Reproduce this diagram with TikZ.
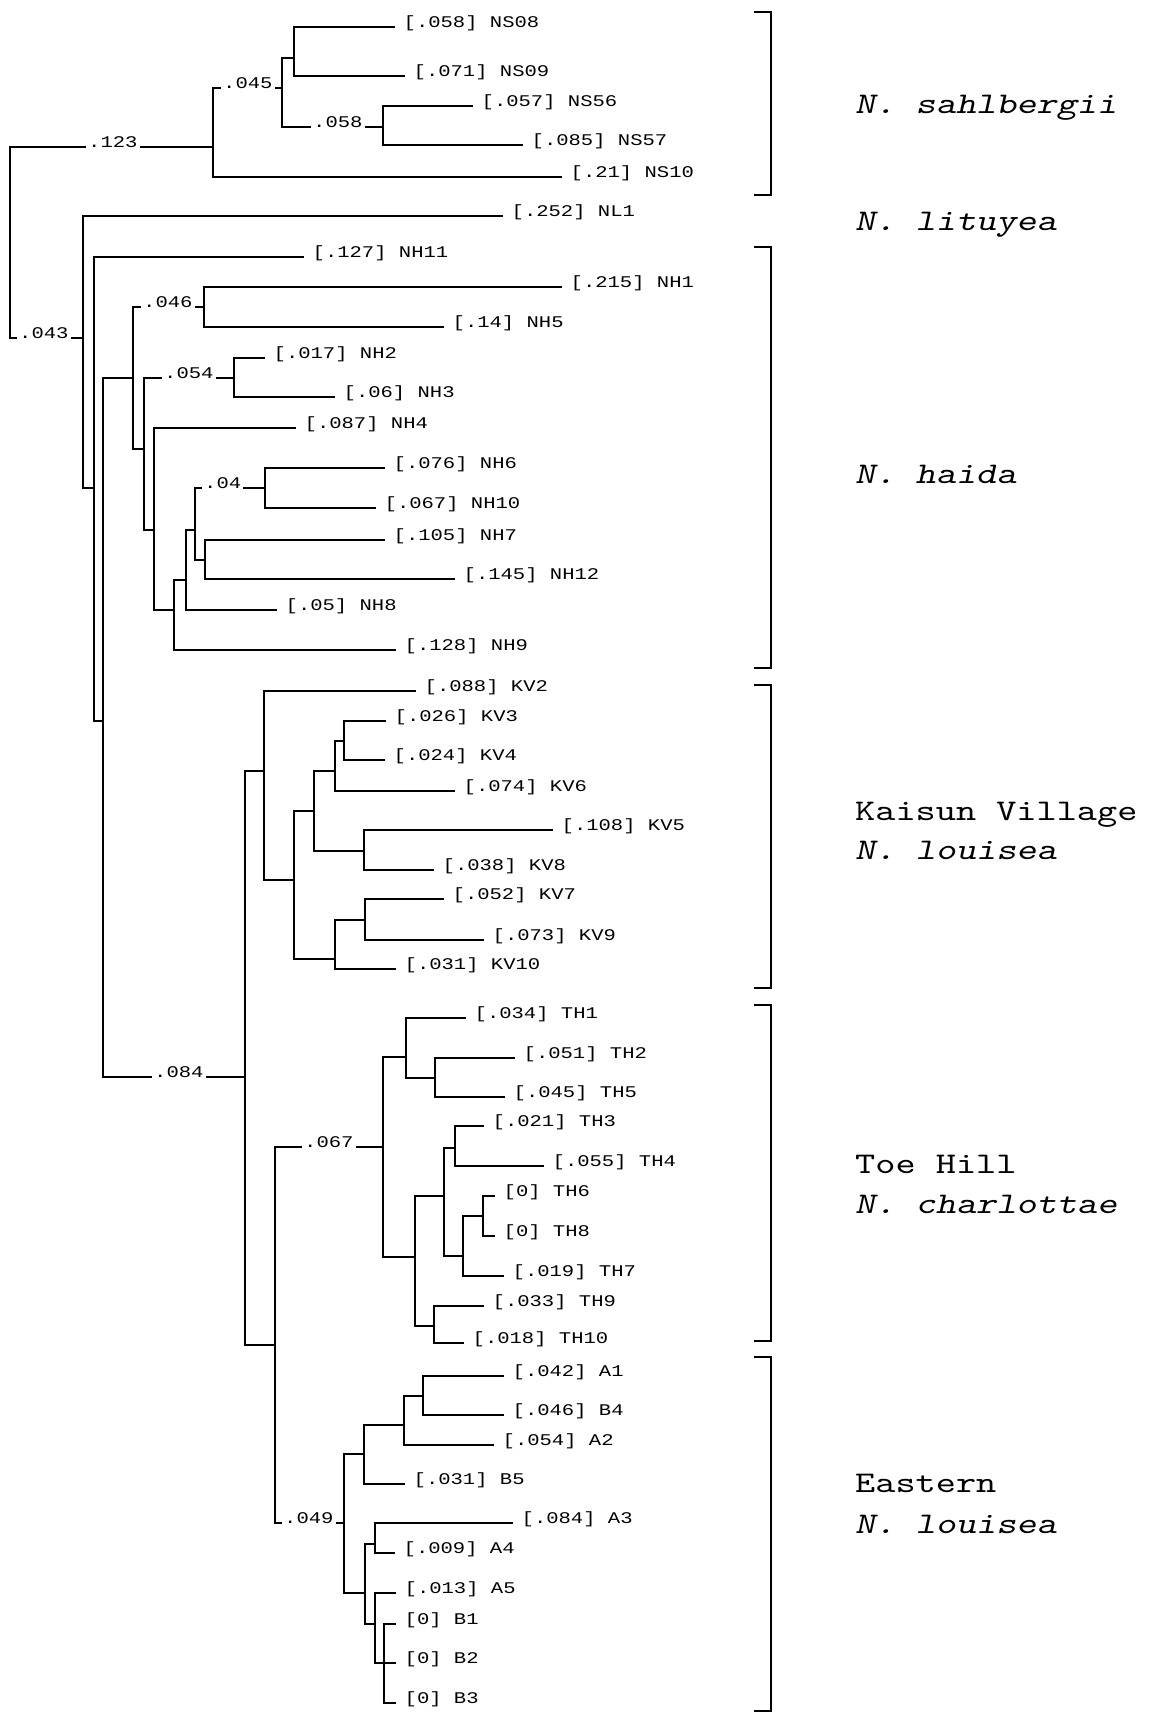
\documentclass[tikz,border=0pt]{standalone}
\usepackage{fontspec}
\usepackage{graphicx}
\newfontfamily\leaffont{Liberation Mono}[FakeStretch=1.26]
\newfontfamily\grpfont{lmmono10-regular.otf}[ItalicFont=lmmonoslant10-regular.otf, FakeStretch=1.28]
\tikzset{
  br/.style={line width=2pt},
  brk/.style={line width=2pt},
  leaf/.style={anchor=base west, inner sep=0pt, font={\leaffont\fontsize{16.3}{18}\selectfont}},
  blab/.style={anchor=base west, inner sep=0pt, font={\leaffont\fontsize{16.3}{18}\selectfont}},
  grp/.style={anchor=base west, inner sep=0pt, font={\grpfont\fontsize{30}{36}\selectfont}}
}
% #1 parent, #2 name, #3 line end x, #4 y, #5 text
\newcommand\leafat[5]{%
  \node[leaf] (#2) at (#3+8.5,#4) {#5};
  \draw[br] (#1) |- ([xshift=-8.5pt]#2.base west);}
% #1 parent, #2 child, #3 child x, #4 y
\newcommand\inbr[4]{%
  \coordinate (#2) at (#3,#4);
  \draw[br] (#1) |- (#2);}
% #1 parent, #2 child, #3 child x, #4 y, #5 label x, #6 label
\newcommand\labbr[6]{%
  \coordinate (#2) at (#3,#4);
  \node[blab] (#2l) at (#5,#4) {#6};
  \draw[br] (#1) |- ([xshift=-2pt]#2l.base west);
  \draw[br] ([xshift=2pt]#2l.base east) -- (#2);}
\begin{document}
\begin{tikzpicture}[x=1pt,y=-1pt]
\useasboundingbox (0,0) rectangle (1149,1717);
\coordinate (root) at (10,240);
% N. sahlbergii
\labbr{root}{NSc}{213}{147}{88}{.123}
\labbr{NSc}{NSa}{282}{88}{223}{.045}
\inbr{NSa}{NSb}{294}{58}
\leafat{NSb}{NS08}{395}{27}{[.058] NS08}
\leafat{NSb}{NS09}{405}{76}{[.071] NS09}
\labbr{NSa}{NSd}{383}{127}{313}{.058}
\leafat{NSd}{NS56}{473}{106}{[.057] NS56}
\leafat{NSd}{NS57}{523}{145}{[.085] NS57}
\leafat{NSc}{NS10}{562}{177}{[.21] NS10}
% rest
\labbr{root}{L1}{83}{338}{19}{.043}
\leafat{L1}{NL1}{503}{216}{[.252] NL1}
\inbr{L1}{L2}{94}{488}
\leafat{L2}{NH11}{304}{257}{[.127] NH11}
\inbr{L2}{L3}{103}{721}
% N. haida
\inbr{L3}{H1}{133}{378}
\labbr{H1}{H2}{204}{307}{143}{.046}
\leafat{H2}{NH1}{562}{287}{[.215] NH1}
\leafat{H2}{NH5}{444}{327}{[.14] NH5}
\inbr{H1}{H3}{144}{449}
\labbr{H3}{H4}{234}{378}{164}{.054}
\leafat{H4}{NH2}{265}{358}{[.017] NH2}
\leafat{H4}{NH3}{335}{397}{[.06] NH3}
\inbr{H3}{H5}{154}{530}
\leafat{H5}{NH4}{296}{428}{[.087] NH4}
\inbr{H5}{H6}{174}{610}
\inbr{H6}{H7}{186}{580}
\inbr{H7}{H8}{195}{530}
\labbr{H8}{H9}{265}{488}{204}{.04}
\leafat{H9}{NH6}{385}{468}{[.076] NH6}
\leafat{H9}{NH10}{376}{508}{[.067] NH10}
\inbr{H8}{H10}{205}{560}
\leafat{H10}{NH7}{385}{540}{[.105] NH7}
\leafat{H10}{NH12}{455}{579}{[.145] NH12}
\leafat{H7}{NH8}{277}{610}{[.05] NH8}
\leafat{H6}{NH9}{396}{650}{[.128] NH9}
% N. louisea + N. charlottae
\labbr{L3}{K0}{245}{1077}{154}{.084}
\inbr{K0}{K1}{264}{771}
\leafat{K1}{KV2}{416}{691}{[.088] KV2}
\inbr{K1}{K2}{294}{880}
\inbr{K2}{K3}{314}{811}
\inbr{K3}{K4}{335}{771}
\inbr{K4}{K5}{344}{741}
\leafat{K5}{KV3}{386}{721}{[.026] KV3}
\leafat{K5}{KV4}{385}{760}{[.024] KV4}
\leafat{K4}{KV6}{455}{791}{[.074] KV6}
\inbr{K3}{K6}{364}{851}
\leafat{K6}{KV5}{553}{830}{[.108] KV5}
\leafat{K6}{KV8}{434}{870}{[.038] KV8}
\inbr{K2}{K7}{335}{959}
\inbr{K7}{K8}{365}{920}
\leafat{K8}{KV7}{444}{899}{[.052] KV7}
\leafat{K8}{KV9}{484}{940}{[.073] KV9}
\leafat{K7}{KV10}{396}{969}{[.031] KV10}
\inbr{K0}{E0}{275}{1345}
% Toe Hill
\labbr{E0}{T0}{383}{1147}{304}{.067}
\inbr{T0}{T1}{406}{1057}
\leafat{T1}{TH1}{466}{1018}{[.034] TH1}
\inbr{T1}{T2}{435}{1078}
\leafat{T2}{TH2}{515}{1058}{[.051] TH2}
\leafat{T2}{TH5}{505}{1097}{[.045] TH5}
\inbr{T0}{T3}{415}{1257}
\inbr{T3}{T4}{444}{1196}
\inbr{T4}{T5}{455}{1148}
\leafat{T5}{TH3}{484}{1126}{[.021] TH3}
\leafat{T5}{TH4}{544}{1166}{[.055] TH4}
\inbr{T4}{T6}{463}{1256}
\inbr{T6}{T7}{483}{1216}
\leafat{T7}{TH6}{495}{1196}{[0] TH6}
\leafat{T7}{TH8}{495}{1236}{[0] TH8}
\leafat{T6}{TH7}{504}{1276}{[.019] TH7}
\inbr{T3}{T8}{434}{1326}
\leafat{T8}{TH9}{484}{1306}{[.033] TH9}
\leafat{T8}{TH10}{464}{1343}{[.018] TH10}
% Eastern
\labbr{E0}{A0}{344}{1523}{284}{.049}
\inbr{A0}{A1n}{364}{1454}
\inbr{A1n}{A2n}{404}{1425}
\inbr{A2n}{A3n}{423}{1396}
\leafat{A3n}{A1}{504}{1376}{[.042] A1}
\leafat{A3n}{B4}{504}{1415}{[.046] B4}
\leafat{A2n}{A2}{494}{1445}{[.054] A2}
\leafat{A1n}{B5}{405}{1484}{[.031] B5}
\inbr{A0}{A4n}{365}{1593}
\inbr{A4n}{A5n}{375}{1544}
\leafat{A5n}{A3}{513}{1523}{[.084] A3}
\leafat{A5n}{A4}{395}{1553}{[.009] A4}
\inbr{A4n}{A6n}{375}{1624}
\leafat{A6n}{A5}{396}{1593}{[.013] A5}
\inbr{A6n}{A7n}{384}{1663}
\leafat{A7n}{B1}{396}{1624}{[0] B1}
\leafat{A7n}{B2}{396}{1663}{[0] B2}
\leafat{A7n}{B3}{396}{1703}{[0] B3}
% brackets
\draw[brk] (754,12) -- (771,12) -- (771,195) -- (754,195);
\draw[brk] (754,247) -- (771,247) -- (771,668) -- (754,668);
\draw[brk] (754,685) -- (771,685) -- (771,988) -- (754,988);
\draw[brk] (754,1005) -- (771,1005) -- (771,1341) -- (754,1341);
\draw[brk] (754,1357) -- (771,1357) -- (771,1711) -- (754,1711);
% group labels
\node[grp] (g1) at (855,113) {\itshape N. sahlbergii};
\node[grp] (g2) at (855,230) {\itshape N. lituyea};
\node[grp] (g3) at (855,483) {\itshape N. haida};
\node[grp] (g4a) at (855,820) {Kaisun Village};
\node[grp] (g4b) at (855,859) {\itshape N. louisea};
\node[grp] (g5a) at (855,1173) {Toe Hill};
\node[grp] (g5b) at (855,1213) {\itshape N. charlottae};
\node[grp] (g6a) at (855,1492) {Eastern};
\node[grp] (g6b) at (855,1533) {\itshape N. louisea};
\end{tikzpicture}
\end{document}
